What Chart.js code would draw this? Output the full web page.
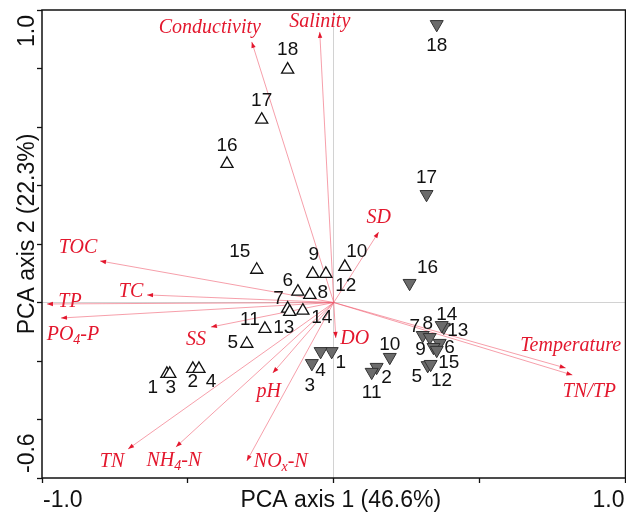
<!DOCTYPE html>
<html>
<head>
<meta charset="utf-8">
<script src="https://cdn.jsdelivr.net/npm/chart.js@4.4.0/dist/chart.umd.min.js"></script>
<style>
  html, body { margin: 0; padding: 0; background: #fff; overflow: hidden; }
</style>
</head>
<body>
<canvas id="pca" width="626" height="514"></canvas>
<script>
// PCA biplot: sites (two groups) + environmental vectors

const SITE_LABELS = ['1','2','3','4','5','6','7','8','9','10','11','12','13','14','15','16','17','18'];

// open triangles
const OPEN_X = [-0.572,-0.483,-0.562,-0.462,-0.298,-0.123,-0.158,-0.082,-0.072, 0.038,-0.236,-0.027,-0.151,-0.106,-0.264,-0.366,-0.247,-0.158];
const OPEN_Y = [-0.244,-0.227,-0.244,-0.227,-0.141, 0.037,-0.021, 0.026, 0.098, 0.122,-0.090, 0.098,-0.032,-0.028, 0.112, 0.474, 0.625, 0.796];

// filled (grey) triangles
const FILLED_X = [-0.007, 0.147,-0.075,-0.045, 0.322, 0.363, 0.305, 0.329, 0.342, 0.192, 0.130, 0.332, 0.377, 0.370, 0.353, 0.260, 0.318, 0.353];
const FILLED_Y = [-0.167,-0.221,-0.208,-0.167,-0.215,-0.139,-0.112,-0.119,-0.153,-0.187,-0.238,-0.211,-0.084,-0.078,-0.163, 0.066, 0.370, 0.951];

// environmental variables ( _x = subscript )
const VAR_NAMES = ['Conductivity','Salinity','SD','TOC','TC','TP','PO_4-P','SS','TN','NH_4-N','NO_x-N','pH','DO','Temperature','TN/TP'];
const VAR_X = [-0.281,-0.048, 0.154,-0.801,-0.640,-0.983,-0.935,-0.421,-0.705,-0.541,-0.298,-0.209, 0.007, 0.795, 0.818];
const VAR_Y = [ 0.891, 0.925, 0.241, 0.142, 0.026,-0.005,-0.053,-0.084,-0.501,-0.494,-0.542,-0.241,-0.121,-0.224,-0.248];

const X_TICK_LABELS = ['-1.0', '1.0'];
const Y_TICK_LABELS = ['1.0', '-0.6'];
const X_TITLE = 'PCA axis 1 (46.6%)';
const Y_TITLE = 'PCA axis 2 (22.3%)';

// ─── label placement (pixel offsets from the mark) ───────────────────────────
const OPEN_LABEL_OFF = [[-14,14],[0,13],[1,14],[12,13],[-14,-1],[-10,-11],[-9,-10],[13,-2],[1,-19],[12,-15],[-15,-9],[20,12],[-6,16],[19,7],[-17,-18],[0,-18],[0,-19],[0,-20]];
const FILLED_LABEL_OFF = [[9,11],[10,11],[-2,22],[0,19],[-11,11],[10,5],[-8,-8],[-2,-14],[-13,3],[0,-12],[0,21],[11,17],[14,4],[5,-11],[12,13],[18,-15],[0,-17],[0,21]];
const VAR_LABEL_OFF = [[-42,-14],[0,-10],[0,-14],[-22,-13],[-16,-3],[23,-2],[12,17],[-15,13],[-16,13],[-2,14],[34,1],[-4,19],[19,1],[5,-22],[17,17]];

const RED = '#e3172d';
const ARROW_COL = 'rgba(240, 90, 110, 0.65)';
const SANS = '"Liberation Sans", Arial, sans-serif';
const SERIF = '"Liberation Serif", "Times New Roman", serif';

const toPts = (xs, ys) => xs.map((x, i) => ({ x, y: ys[i] }));

function drawRich(ctx, text, x, y) {
  // split "PO_4-P" -> PO, (4), -P
  const parts = [];
  let i = 0, buf = '';
  while (i < text.length) {
    if (text[i] === '_') {
      if (buf) parts.push({ t: buf, sub: false });
      buf = '';
      parts.push({ t: text[i + 1], sub: true });
      i += 2;
    } else { buf += text[i]; i++; }
  }
  if (buf) parts.push({ t: buf, sub: false });
  const main = 'italic 20px ' + SERIF, small = 'italic 14px ' + SERIF;
  let w = 0;
  parts.forEach(p => { ctx.font = p.sub ? small : main; p.w = ctx.measureText(p.t).width; w += p.w; });
  let cx = x - w / 2;
  ctx.textAlign = 'left';
  ctx.textBaseline = 'middle';
  parts.forEach(p => {
    ctx.font = p.sub ? small : main;
    ctx.fillText(p.t, cx, p.sub ? y + 5 : y);
    cx += p.w;
  });
}

const biplotPlugin = {
  id: 'biplot',
  afterDatasetsDraw(chart) {
    const { ctx, scales: { x: sx, y: sy } } = chart;
    const ox = sx.getPixelForValue(0), oy = sy.getPixelForValue(0);
    ctx.save();

    // arrow heads + variable names
    VAR_NAMES.forEach((name, i) => {
      const tx = sx.getPixelForValue(VAR_X[i]), ty = sy.getPixelForValue(VAR_Y[i]);
      const a = Math.atan2(ty - oy, tx - ox);
      ctx.fillStyle = RED;
      ctx.beginPath();
      ctx.moveTo(tx, ty);
      ctx.lineTo(tx - 6 * Math.cos(a) + 2.2 * Math.sin(a), ty - 6 * Math.sin(a) - 2.2 * Math.cos(a));
      ctx.lineTo(tx - 6 * Math.cos(a) - 2.2 * Math.sin(a), ty - 6 * Math.sin(a) + 2.2 * Math.cos(a));
      ctx.closePath();
      ctx.fill();
      drawRich(ctx, name, tx + VAR_LABEL_OFF[i][0], ty + VAR_LABEL_OFF[i][1]);
    });

    // site numbers
    ctx.fillStyle = '#111';
    ctx.font = '19px ' + SANS;
    ctx.textAlign = 'center';
    ctx.textBaseline = 'middle';
    [[0, OPEN_LABEL_OFF], [1, FILLED_LABEL_OFF]].forEach(([di, offs]) => {
      chart.getDatasetMeta(di).data.forEach((el, i) => {
        ctx.fillText(SITE_LABELS[i], el.x + offs[i][0], el.y + offs[i][1]);
      });
    });

    // frame
    const ca = chart.chartArea;
    ctx.strokeStyle = '#111';
    ctx.lineWidth = 1.5;
    ctx.strokeRect(ca.left, ca.top, ca.right - ca.left, ca.bottom - ca.top);
    ctx.restore();
  },
  afterDraw(chart) {
    const { ctx, scales: { x: sx, y: sy } } = chart;
    const ca = chart.chartArea;
    ctx.save();
    ctx.fillStyle = '#111';
    ctx.font = '23px ' + SANS;
    ctx.textBaseline = 'alphabetic';

    // x tick labels (inner aligned) + title
    ctx.textAlign = 'left';
    ctx.fillText(X_TICK_LABELS[0], sx.getPixelForValue(-1) + 1, 507);
    ctx.textAlign = 'right';
    ctx.fillText(X_TICK_LABELS[1], sx.getPixelForValue(1) - 1, 507);
    ctx.textAlign = 'center';
    ctx.fillText(X_TITLE, (ca.left + ca.right) / 2 + 7, 507);

    // y tick labels + title, rotated
    const rot = (txt, y, align) => {
      ctx.save();
      ctx.translate(34, y);
      ctx.rotate(-Math.PI / 2);
      ctx.textAlign = align;
      ctx.fillText(txt, 0, 0);
      ctx.restore();
    };
    rot(Y_TICK_LABELS[0], sy.getPixelForValue(1) + 5, 'right');
    rot(Y_TICK_LABELS[1], sy.getPixelForValue(-0.6) - 5, 'left');
    rot(Y_TITLE, (ca.top + ca.bottom) / 2 - 10, 'center');
    ctx.restore();
  }
};

const zeroGrid = c => (c.tick && Math.abs(c.tick.value) < 1e-9) ? '#d2d2d2' : 'rgba(0,0,0,0)';

const datasets = [
  {
    data: toPts(OPEN_X, OPEN_Y),
    pointStyle: 'triangle',
    pointRadius: 7,
    backgroundColor: '#fff',
    borderColor: '#111',
    borderWidth: 1.3,
  },
  {
    data: toPts(FILLED_X, FILLED_Y),
    pointStyle: 'triangle',
    rotation: 180,
    pointRadius: 7.5,
    backgroundColor: '#6b6b6b',
    borderColor: '#333',
    borderWidth: 1,
  },
  ...VAR_NAMES.map((n, i) => ({
    data: [{ x: 0, y: 0 }, { x: VAR_X[i], y: VAR_Y[i] }],
    showLine: true,
    pointRadius: 0,
    borderColor: ARROW_COL,
    borderWidth: 0.9,
  })),
];

new Chart(document.getElementById('pca').getContext('2d'), {
  type: 'scatter',
  data: { datasets },
  options: {
    responsive: false,
    animation: false,
    layout: { autoPadding: false, padding: { top: 10, right: 0.5, left: 0, bottom: 0 } },
    plugins: { legend: { display: false }, tooltip: { enabled: false } },
    scales: {
      x: {
        min: -1, max: 1,
        ticks: { stepSize: 0.5, display: false },
        border: { display: false },
        grid: { color: zeroGrid, lineWidth: 1, tickColor: '#111', tickLength: 5, tickWidth: 1.3 },
        afterFit: s => { s.height = 36; },
      },
      y: {
        min: -0.6, max: 1,
        ticks: { stepSize: 0.2, display: false },
        border: { display: false },
        grid: { color: zeroGrid, lineWidth: 1, tickColor: '#111', tickLength: 5, tickWidth: 1.3 },
        afterFit: s => { s.width = 42; },
      }
    }
  },
  plugins: [biplotPlugin]
});
</script>
</body>
</html>
